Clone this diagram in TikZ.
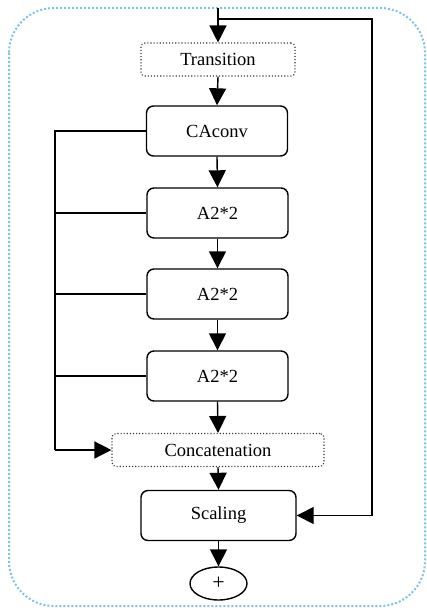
\documentclass[tikz,border=0pt]{standalone}
\usepackage{fontspec}
\setmainfont{Liberation Serif}
\usetikzlibrary{arrows.meta,shapes.geometric}
\definecolor{outerblue}{RGB}{125,195,230}
\tikzset{
  blk/.style={draw=black, line width=1.4pt, rounded corners=7pt, minimum width=141pt, minimum height=50pt, font=\fontsize{18.5}{20}\selectfont, inner sep=0pt},
  dotbox/.style={draw=black!80, line width=1.1pt, dotted, rounded corners=4pt, minimum height=33pt, font=\fontsize{18.5}{20}\selectfont, inner sep=0pt},
  conn/.style={draw=black, line width=1.4pt, -{Triangle[length=17pt,width=17pt]}},
  plain/.style={draw=black, line width=1.4pt}
}
\begin{document}
\begin{tikzpicture}[x=1pt,y=-1pt]
\useasboundingbox (0,0) rectangle (427,610);
\draw[outerblue, line width=2pt, dotted, rounded corners=45pt] (9,8) rectangle (425,606);
\node[dotbox, minimum width=154pt] (tr) at (218,59.5) {Transition};
\node[blk] (ca) at (217,131) {CAconv};
\node[blk] (a1) at (217.5,213) {A2*2};
\node[blk] (a2) at (217.5,294) {A2*2};
\node[blk] (a3) at (217.5,376) {A2*2};
\node[dotbox, minimum width=212pt] (cc) at (218,450) {Concatenation};
\node[blk, minimum width=155pt] (sc) at (218.5,515.5) {Scaling};
\node[draw=black, line width=1.4pt, ellipse, minimum width=57pt, minimum height=33pt, inner sep=0pt, font=\fontsize{22}{24}\selectfont] (pl) at (218.5,583.5) {+};
\coordinate (in) at (218,8);
\coordinate (br) at (218,19);
\coordinate (rt) at (372,19);
\coordinate (left) at (55,131);
\draw[conn] (in) -- (tr.north);
\draw[plain] (br) -- (rt) -- (rt |- sc.east);
\draw[conn] (rt |- sc.east) -- (sc.east);
\draw[conn] (tr.south) -- (ca.north);
\draw[conn] (ca.south) -- (a1.north);
\draw[conn] (a1.south) -- (a2.north);
\draw[conn] (a2.south) -- (a3.north);
\draw[conn] (a3.south) -- (cc.north);
\draw[conn] (cc.south) -- (sc.north);
\draw[conn] (sc.south) -- (pl.north);
\draw[plain] (ca.west) -- (left) -- (left |- cc.west);
\draw[conn] (left |- cc.west) -- (cc.west);
\draw[plain] (a1.west) -- (left |- a1.west);
\draw[plain] (a2.west) -- (left |- a2.west);
\draw[plain] (a3.west) -- (left |- a3.west);
\end{tikzpicture}
\end{document}
